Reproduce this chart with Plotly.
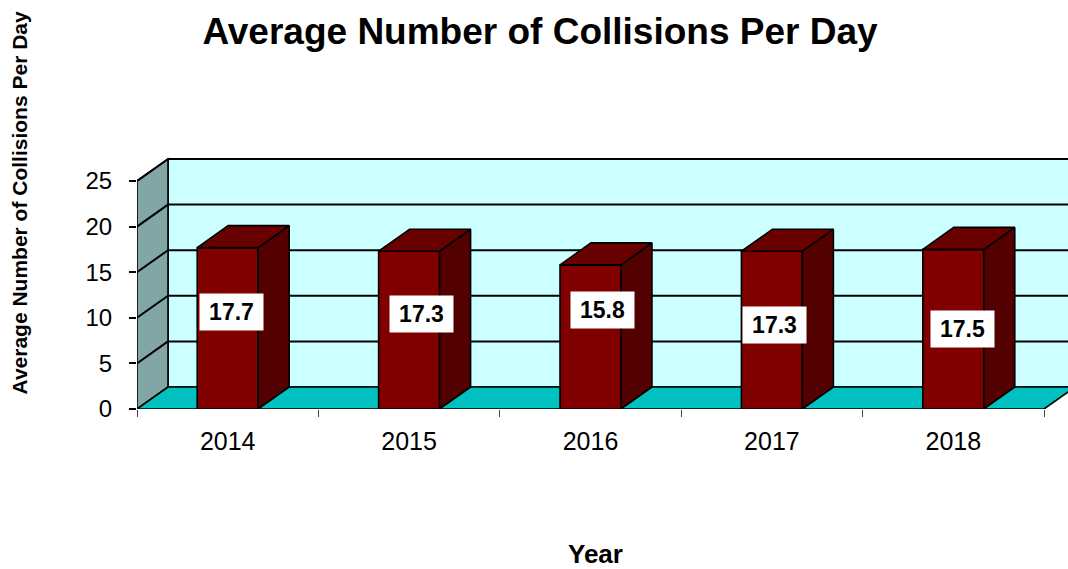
import plotly.graph_objects as go

# ---- data -------------------------------------------------------------
years = ["2014", "2015", "2016", "2017", "2018"]
collisions = [17.7, 17.3, 15.8, 17.3, 17.5]
y_ticks = [0, 5, 10, 15, 20, 25]

# ---- label placement (value boxes sit part-way up each bar) ----------
label_heights = [10.69, 10.42, 10.86, 9.21, 8.77]
label_shift = [0.022, 0.066, 0.066, 0.014, 0.05]

# ---- geometry of the pseudo-3D box -----------------------------------
W, H = 1068, 569
ML, MT, MB = 137, 150, 160
PW, PH = W - ML, H - MT - MB
CAT_PX = 181.4          # pixels per category on the x axis
UNIT_PX = 9.12          # pixels per unit on the y axis
DEPTH_PX = (31, 22)     # receding offset of the back plane
BAR_W = 0.336
WALL_TOP = 25

x_range = [-0.5, -0.5 + PW / CAT_PX]
y_range = [0, PH / UNIT_PX]
dx = DEPTH_PX[0] / CAT_PX
dy = DEPTH_PX[1] / UNIT_PX
x_lo, x_hi = -0.5, len(years) - 0.5


def px_to_paper(px, py):
    """Convert a page pixel position to plot-area paper coordinates."""
    return (px - ML) / PW, (H - MB - py) / PH


FONT = "Arial, Liberation Sans, Helvetica, sans-serif"
FRONT = "#800000"
TOP = "#680000"
SIDE = "#520000"
BACK_WALL = "#CCFFFF"
SIDE_WALL = "#82A6A6"
FLOOR = "#00C0C0"
EDGE = dict(color="black", width=1.6)

xs = list(range(len(years)))

shapes = []
# back wall
shapes.append(dict(type="rect", xref="x", yref="y", layer="below",
                   x0=x_lo + dx, x1=x_hi + dx, y0=dy, y1=WALL_TOP + dy,
                   fillcolor=BACK_WALL, line=EDGE))
# left side wall
shapes.append(dict(type="path", xref="x", yref="y", layer="below",
                   path=f"M {x_lo},0 L {x_lo},{WALL_TOP} L {x_lo + dx},{WALL_TOP + dy} "
                        f"L {x_lo + dx},{dy} Z",
                   fillcolor=SIDE_WALL, line=EDGE))
# floor
shapes.append(dict(type="path", xref="x", yref="y", layer="below",
                   path=f"M {x_lo},0 L {x_hi},0 L {x_hi + dx},{dy} L {x_lo + dx},{dy} Z",
                   fillcolor=FLOOR, line=EDGE))
# gridlines across the back wall and down the side wall
for v in y_ticks[1:]:
    shapes.append(dict(type="line", xref="x", yref="y", layer="below",
                       x0=x_lo + dx, x1=x_hi + dx, y0=v + dy, y1=v + dy,
                       line=dict(color="black", width=2)))
    shapes.append(dict(type="line", xref="x", yref="y", layer="below",
                       x0=x_lo, x1=x_lo + dx, y0=v, y1=v + dy,
                       line=dict(color="black", width=2)))

# top and right faces of each column, built from the values
top_x, top_y, side_x, side_y = [], [], [], []
for i, v in zip(xs, collisions):
    l, r = i - BAR_W / 2, i + BAR_W / 2
    top_x += [l, r, r + dx, l + dx, l, None]
    top_y += [v, v, v + dy, v + dy, v, None]
    side_x += [r, r + dx, r + dx, r, r, None]
    side_y += [0, dy, v + dy, v, 0, None]

fig = go.Figure()
fig.add_trace(go.Bar(x=xs, y=collisions, width=BAR_W,
                     marker=dict(color=FRONT, line=EDGE),
                     hoverinfo="skip", showlegend=False))
fig.add_trace(go.Scatter(x=side_x, y=side_y, mode="lines", fill="toself",
                         fillcolor=SIDE, line=EDGE, hoverinfo="skip",
                         showlegend=False))
fig.add_trace(go.Scatter(x=top_x, y=top_y, mode="lines", fill="toself",
                         fillcolor=TOP, line=EDGE, hoverinfo="skip",
                         showlegend=False))

annotations = []
for i, v, h, s in zip(xs, collisions, label_heights, label_shift):
    annotations.append(dict(x=i + s, y=h, xref="x", yref="y", text=f"{v}",
                            showarrow=False, bgcolor="white", borderpad=5,
                            width=53, height=26,
                            font=dict(family=FONT, size=23, color="black",
                                      weight="bold")))

ytx, yty = px_to_paper(19, 203.5)
annotations.append(dict(x=ytx, y=yty, xref="paper", yref="paper",
                        xanchor="center", yanchor="middle",
                        text="Average Number of Collisions Per Day", textangle=-90,
                        showarrow=False,
                        font=dict(family=FONT, size=21, color="black", weight="bold")))
xtx, xty = px_to_paper(595, 554)
annotations.append(dict(x=xtx, y=xty, xref="paper", yref="paper",
                        xanchor="center", yanchor="middle",
                        text="Year", showarrow=False,
                        font=dict(family=FONT, size=26, color="black", weight="bold")))

fig.update_layout(
    width=W, height=H,
    margin=dict(l=ML, r=0, t=MT, b=MB, autoexpand=False),
    paper_bgcolor="white", plot_bgcolor="white",
    title=dict(text="Average Number of Collisions Per Day",
               x=540 / W, xanchor="center", xref="container",
               y=1 - 31 / H, yanchor="middle", yref="container",
               font=dict(family=FONT, size=37, color="black", weight="bold")),
    shapes=shapes,
    annotations=annotations,
    xaxis=dict(range=x_range, tickvals=xs, ticktext=years, ticks="",
               showgrid=False, zeroline=False, showline=False,
               tickfont=dict(family=FONT, size=25, color="black"),
               ticklabelstandoff=15,
               minor=dict(tickvals=[x_lo + k for k in range(len(years) + 1)],
                          ticks="outside", ticklen=7, tickwidth=1,
                          tickcolor="#444444", showgrid=False)),
    yaxis=dict(range=y_range, tickvals=y_ticks, ticks="outside", ticklen=7,
               tickwidth=1.5, tickcolor="black",
               showgrid=False, zeroline=False, showline=False,
               tickfont=dict(family=FONT, size=24, color="black"),
               ticklabelstandoff=12),
)

fig.write_html("out.html")
